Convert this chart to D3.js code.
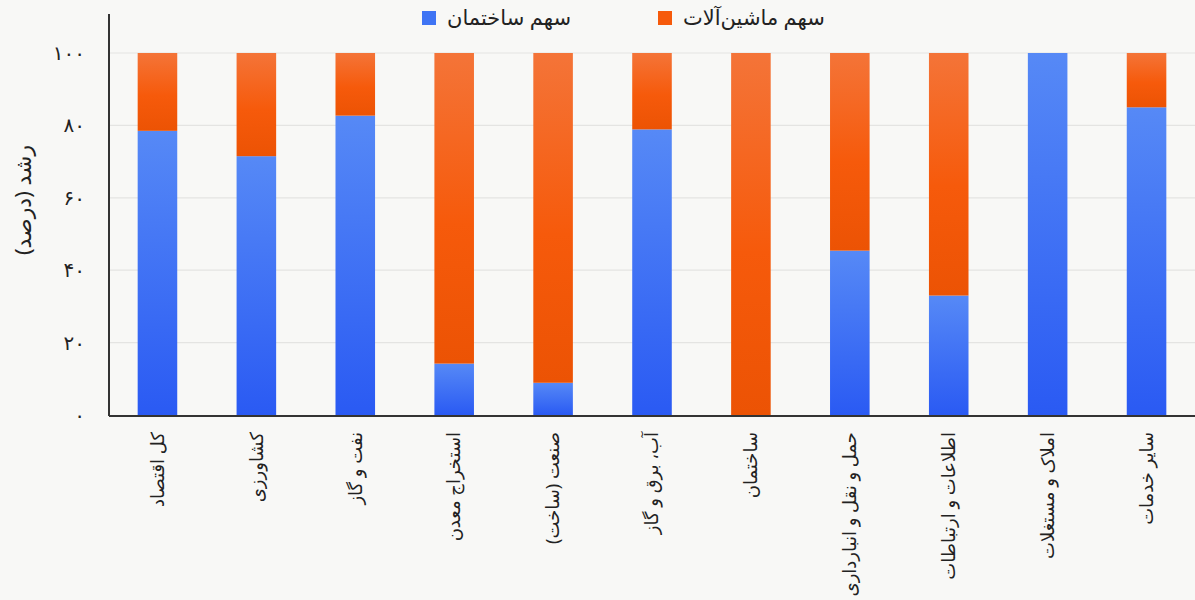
<!DOCTYPE html>
<html><head><meta charset="utf-8">
<script src="https://cdn.jsdelivr.net/npm/d3@7"></script>
<style>
html,body{margin:0;padding:0;background:#f8f8f6;}
svg{display:block;font-family:"Noto Sans","DejaVu Sans",sans-serif;}
</style></head>
<body>
<svg id="chart" width="1195" height="600"></svg>
<script>
const categories = ["کل اقتصاد","کشاورزی","نفت و گاز","استخراج معدن","صنعت (ساخت)","آب، برق و گاز","ساختمان","حمل و نقل و انبارداری","اطلاعات و ارتباطات","املاک و مستغلات","سایر خدمات"];
const buildingShare = [78.5, 71.5, 82.7, 14.2, 8.9, 78.9, 0, 45.4, 33.0, 100, 85.0];
const machineryShare = [21.5, 28.5, 17.3, 85.8, 91.1, 21.1, 100, 54.6, 67.0, 0, 15.0];
const seriesNames = ["سهم ساختمان", "سهم ماشین‌آلات"];
const yTicks = [0, 20, 40, 60, 80, 100];
const yTitle = "رشد (درصد)";

const svg = d3.select("#chart");
const W = 1195, H = 600;
const plotLeft = 109;
const x = d3.scaleBand().domain(categories).range([108, 1196]).paddingInner(0.6).paddingOuter(0.3);
const y = d3.scaleLinear().domain([0,100]).range([415, 53]);

const defs = svg.append("defs");
const gb = defs.append("linearGradient").attr("id","gBlue").attr("x1",0).attr("y1",0).attr("x2",0).attr("y2",1);
gb.append("stop").attr("offset","0%").attr("stop-color","#5689f6");
gb.append("stop").attr("offset","100%").attr("stop-color","#2a5af3");
const go = defs.append("linearGradient").attr("id","gOrange").attr("x1",0).attr("y1",0).attr("x2",0).attr("y2",1);
go.append("stop").attr("offset","0%").attr("stop-color","#f47438");
go.append("stop").attr("offset","55%").attr("stop-color","#f65a0b");
go.append("stop").attr("offset","100%").attr("stop-color","#ec5304");

// background
svg.append("rect").attr("width",W).attr("height",H).attr("fill","#f8f8f6");

// gridlines
svg.append("g").selectAll("line").data(yTicks.filter(d=>d>0)).join("line")
  .attr("x1", plotLeft).attr("x2", W)
  .attr("y1", d=>y(d)).attr("y2", d=>y(d))
  .attr("stroke","#e4e4e2").attr("stroke-width",1.2);

const data = categories.map((c,i)=>({c, b: buildingShare[i], m: machineryShare[i]}));
const stack = d3.stack().keys(["b","m"])(data);
const fills = ["url(#gBlue)","url(#gOrange)"];
svg.append("g").selectAll("g").data(stack).join("g")
  .attr("fill",(d,i)=>fills[i])
  .selectAll("rect").data(d=>d).join("rect")
  .attr("x", d=>x(d.data.c))
  .attr("width", x.bandwidth())
  .attr("y", d=>y(d[1]))
  .attr("height", d=>Math.max(0, y(d[0]) - y(d[1])));

// axes lines
svg.append("line").attr("x1",plotLeft).attr("x2",plotLeft).attr("y1",14).attr("y2",y(0)+1)
  .attr("stroke","#333").attr("stroke-width",2);
svg.append("line").attr("x1",plotLeft).attr("x2",W).attr("y1",y(0)+1).attr("y2",y(0)+1)
  .attr("stroke","#333").attr("stroke-width",2);

// y tick labels
const fa = n => String(n).replace(/\d/g, d => "۰۱۲۳۴۵۶۷۸۹"[d]);
svg.append("g").selectAll("text").data(yTicks).join("text")
  .attr("x", 85).attr("y", d=>y(d)).attr("dy","0.35em")
  .attr("text-anchor","end").attr("font-size",20).attr("fill","#222")
  .text(d=>fa(d));

// y title
svg.append("text").attr("transform",`translate(23,200) rotate(-90)`)
  .attr("text-anchor","middle").attr("dy","0.35em").attr("font-size",22).attr("fill","#222")
  .text(yTitle);

// x labels
svg.append("g").selectAll("text").data(categories).join("text")
  .attr("transform", d=>`translate(${x(d)+x.bandwidth()/2},432) rotate(-90)`)
  .attr("text-anchor","end").attr("dy","0.35em").attr("font-size",18).attr("fill","#222")
  .text(d=>d);

// legend
const legend = [{name: seriesNames[0], fill:"#3f74f4", x:422}, {name: seriesNames[1], fill:"#f65a0b", x:658}];
const lg = svg.append("g").selectAll("g").data(legend).join("g").attr("transform", d=>`translate(${d.x},11)`);
lg.append("rect").attr("width",14).attr("height",14).attr("fill",d=>d.fill);
lg.append("text").attr("x",25).attr("y",7).attr("dy","0.35em").attr("font-size",21).attr("fill","#222").text(d=>d.name);
</script>
</body></html>
